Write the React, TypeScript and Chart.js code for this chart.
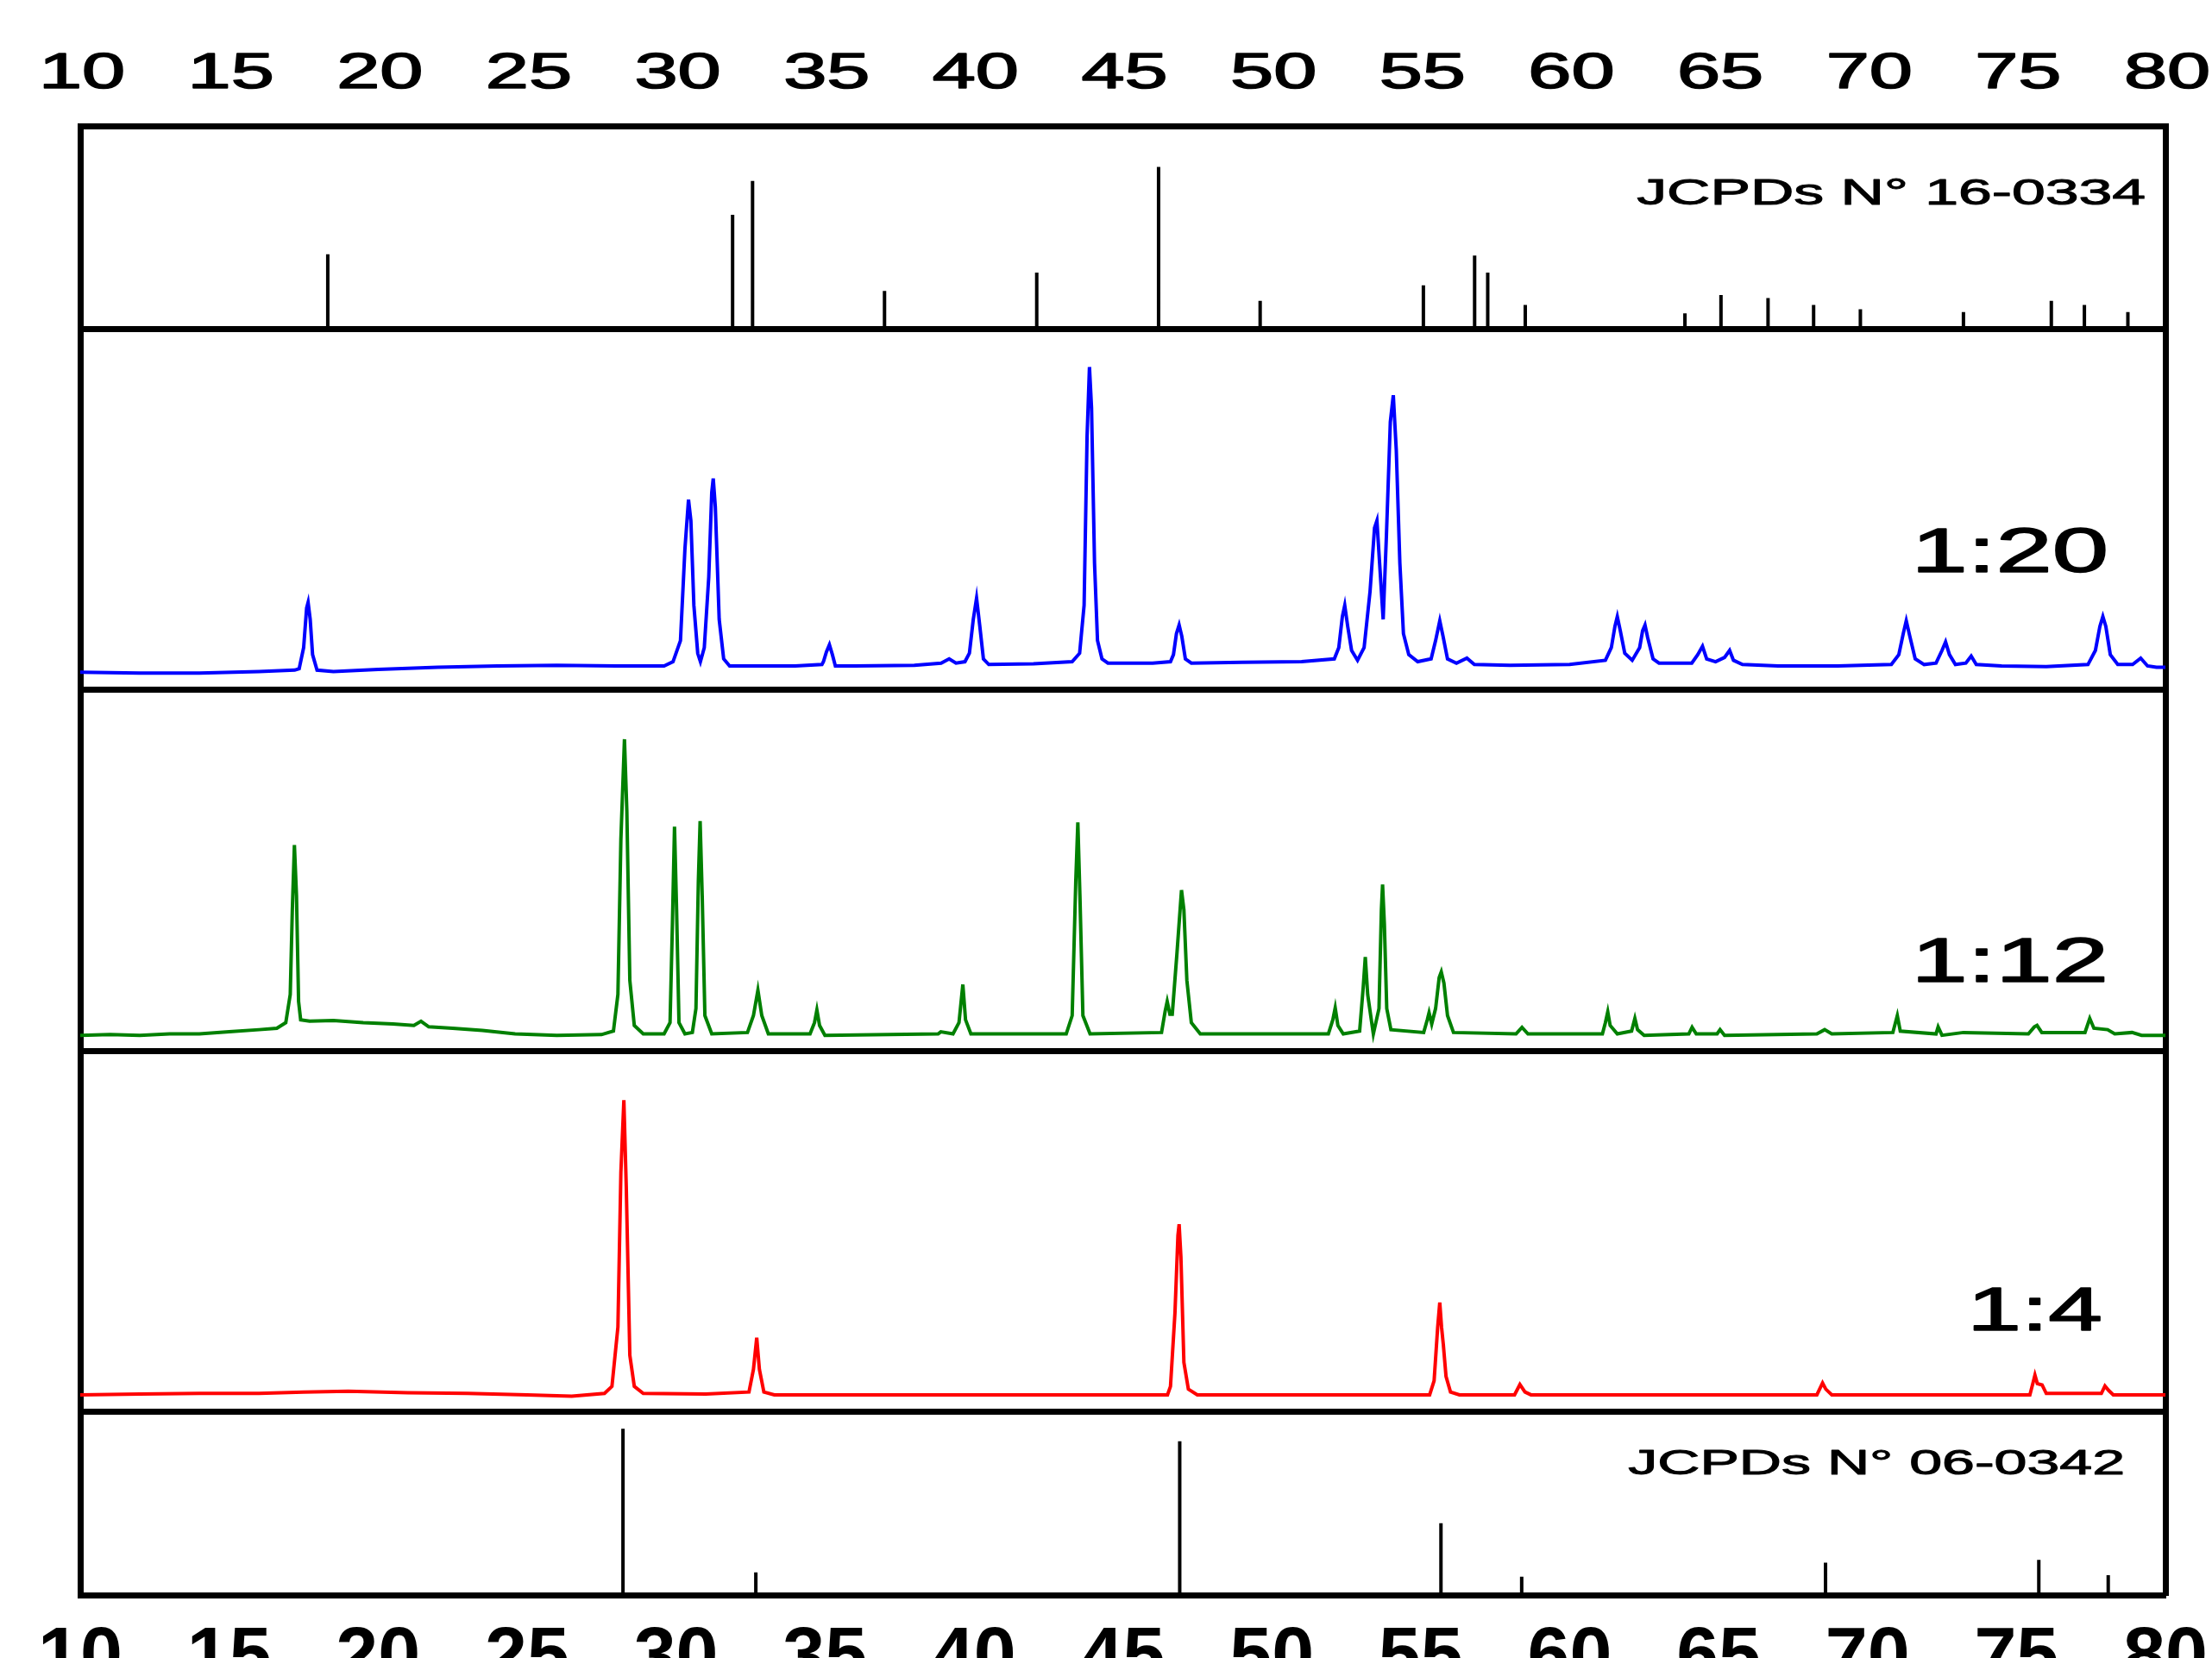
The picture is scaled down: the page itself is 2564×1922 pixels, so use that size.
import { useEffect, useRef } from "react";
import { Chart, registerables } from "chart.js";

Chart.register(...registerables);

// ---------- axis ----------
const X_MIN = 10;
const X_MAX = 80;
const X_TICK_VALUES = [10, 15, 20, 25, 30, 35, 40, 45, 50, 55, 60, 65, 70, 75, 80];
const X_TICK_LABELS = ["10", "15", "20", "25", "30", "35", "40", "45", "50", "55", "60", "65", "70", "75", "80"];

// ---------- panel baselines (stacked offsets, arbitrary units) ----------
const Y_MAX = 1042;
const DIVIDERS = [130, 386, 642, 898];
const BASE_06_0342 = 0;
const BASE_1_4 = 130;
const BASE_1_12 = 386;
const BASE_1_20 = 642;
const BASE_16_0334 = 898;

// ---------- reference patterns: [2θ, intensity] ----------
const JCPDS_16_0334: [number, number][] = [
  [18.31, 53], [31.9, 81], [32.57, 105], [37.0, 27], [42.11, 40], [46.2, 115],
  [49.61, 20], [55.09, 31], [56.81, 52], [57.25, 40], [58.51, 17], [63.87, 11],
  [65.08, 24], [66.66, 22], [68.19, 17], [69.76, 14], [73.22, 12], [76.17, 20],
  [77.28, 17], [78.74, 12],
];

const JCPDS_06_0342: [number, number][] = [
  [28.22, 118], [32.68, 16], [46.91, 109], [55.68, 51], [58.39, 13],
  [68.59, 23], [75.75, 25], [78.08, 14],
];

// ---------- measured patterns: [2θ, intensity] ----------
const RATIO_1_20: [number, number][] = [
  [10, 12.5], [12, 12], [14, 12], [16, 13], [17.2, 14],
  [17.35, 15], [17.5, 30], [17.6, 58], [17.65, 62], [17.72, 50], [17.8, 25], [17.95, 14],
  [18.5, 13], [20, 14.5], [22, 16], [24, 17], [26, 17.5], [28, 17], [29.6, 17],
  [29.9, 20], [30.15, 35], [30.3, 100], [30.42, 135], [30.5, 120], [30.6, 60], [30.73, 26],
  [30.82, 20], [30.95, 30], [31.1, 80], [31.2, 140], [31.25, 150], [31.32, 130], [31.45, 50],
  [31.6, 22], [31.8, 17], [32, 17], [34, 17], [34.9, 18],
  [34.95, 20], [35.05, 27], [35.15, 32], [35.25, 25], [35.35, 17],
  [36, 17], [38, 17.5], [38.9, 19], [39.17, 22], [39.4, 19], [39.7, 20],
  [39.85, 26], [39.98, 50], [40.09, 65], [40.2, 45], [40.32, 22], [40.5, 18],
  [42, 18.5], [43.3, 20],
  [43.55, 26], [43.7, 60], [43.8, 180], [43.88, 229], [43.95, 200], [44.05, 90], [44.15, 35],
  [44.3, 22], [44.5, 19], [46, 19], [46.6, 20],
  [46.7, 25], [46.8, 40], [46.89, 46], [46.98, 38], [47.1, 22], [47.3, 19],
  [49, 19.5], [51, 20], [52.1, 22],
  [52.25, 30], [52.37, 52], [52.45, 60], [52.55, 45], [52.68, 28], [52.88, 21],
  [53.1, 30], [53.3, 70], [53.45, 115], [53.53, 120], [53.62, 90], [53.74, 50],
  [53.85, 110], [53.98, 190], [54.08, 209], [54.18, 170], [54.3, 90], [54.42, 40],
  [54.6, 25], [54.9, 20], [55.35, 22], [55.5, 35], [55.64, 49], [55.75, 38], [55.9, 22],
  [56.2, 19], [56.55, 22.5], [56.8, 18], [58, 17.5], [60, 18], [61.2, 21],
  [61.4, 30], [61.52, 45], [61.6, 52], [61.7, 42], [61.85, 26], [62.1, 21],
  [62.35, 30], [62.45, 42], [62.53, 46], [62.62, 37], [62.8, 22], [63, 19],
  [64.1, 19], [64.3, 25], [64.46, 31], [64.6, 22], [64.9, 20], [65.2, 23], [65.37, 28],
  [65.5, 21], [65.8, 18], [67, 17], [69, 17], [70.8, 18],
  [71.05, 25], [71.2, 40], [71.3, 49], [71.42, 38], [71.6, 22], [71.9, 18],
  [72.3, 19], [72.5, 28], [72.62, 34], [72.75, 25], [72.95, 18], [73.3, 19], [73.48, 24],
  [73.65, 18], [74.5, 17], [76, 16.5], [77.4, 18],
  [77.65, 28], [77.8, 45], [77.9, 52], [78.0, 45], [78.15, 25], [78.4, 18],
  [78.9, 18], [79.17, 22.5], [79.4, 17], [79.7, 16], [80, 16],
];

const RATIO_1_12: [number, number][] = [
  [10, 11], [11, 11.5], [12, 11], [13, 12], [14, 12], [15, 13.5], [16, 15], [16.6, 16],
  [16.9, 20], [17.05, 40], [17.12, 100], [17.19, 146], [17.26, 110], [17.33, 35], [17.4, 22],
  [17.7, 21], [18.5, 21.5], [19.5, 20], [20.5, 19], [21.2, 18], [21.44, 21], [21.7, 17],
  [22.5, 16], [23.5, 14.5], [24.6, 12], [26, 11], [27.5, 11.5],
  [27.9, 14], [28.05, 40], [28.15, 150], [28.27, 221], [28.35, 170], [28.45, 50], [28.6, 18],
  [28.9, 12], [29.6, 12], [29.8, 20], [29.88, 90], [29.95, 159], [30.02, 100], [30.1, 20],
  [30.3, 12], [30.55, 13], [30.67, 30], [30.75, 120], [30.81, 163], [30.88, 110], [30.97, 25],
  [31.2, 12], [32.4, 13], [32.6, 25], [32.75, 43], [32.88, 25], [33.1, 12],
  [34.5, 12], [34.65, 20], [34.73, 29], [34.82, 18], [35, 11],
  [38.8, 12], [38.89, 13.5], [39.3, 12], [39.5, 20], [39.63, 47], [39.72, 22], [39.9, 12],
  [43.1, 12], [43.3, 25], [43.42, 120], [43.49, 162], [43.56, 110], [43.66, 25], [43.9, 12],
  [46.3, 13], [46.42, 28], [46.49, 35], [46.58, 26], [46.66, 26], [46.82, 70], [46.97, 114],
  [47.05, 100], [47.15, 50], [47.3, 20], [47.6, 12],
  [51.9, 12], [52.05, 22], [52.13, 30.5], [52.22, 18], [52.4, 12],
  [52.95, 14], [53.07, 45], [53.14, 66.5], [53.22, 40], [53.41, 12],
  [53.6, 30], [53.68, 100], [53.72, 118], [53.78, 90], [53.86, 30], [54.0, 15],
  [55.1, 13], [55.22, 22], [55.28, 27], [55.37, 19], [55.5, 30], [55.62, 52], [55.69, 56],
  [55.78, 48], [55.9, 25], [56.1, 13],
  [58.2, 12], [58.4, 16.6], [58.6, 12], [61.1, 12], [61.2, 20], [61.28, 27.7], [61.36, 18],
  [61.6, 12], [62.08, 14], [62.19, 23], [62.28, 15], [62.5, 11], [64.0, 12], [64.11, 16.7],
  [64.25, 12], [64.95, 12], [65.05, 15], [65.2, 11], [68.3, 12], [68.56, 15], [68.8, 12],
  [70.85, 13], [71.0, 25], [71.1, 14], [72.3, 12], [72.37, 17], [72.5, 11], [73.22, 13],
  [75.4, 12], [75.6, 17], [75.69, 18], [75.85, 13], [77.3, 13], [77.46, 23], [77.6, 16],
  [78.06, 15], [78.3, 12], [78.88, 13], [79.2, 11], [80, 11],
];

const RATIO_1_4: [number, number][] = [
  [10, 12], [12, 12.5], [14, 13], [16, 13], [17.5, 14], [19, 14.5], [21, 13.5], [23, 13],
  [25, 12], [26.5, 11], [27.6, 13],
  [27.85, 18], [28.05, 60], [28.15, 170], [28.25, 221], [28.33, 160], [28.45, 40], [28.6, 18],
  [28.9, 13], [31, 12.5], [32.45, 14], [32.6, 30], [32.71, 52.5], [32.8, 30], [32.95, 14],
  [33.3, 12], [46.5, 12], [46.6, 18], [46.75, 70], [46.85, 125], [46.89, 133], [46.95, 110],
  [47.05, 35], [47.2, 16], [47.5, 12],
  [55.3, 12], [55.45, 22], [55.57, 60], [55.64, 77.5], [55.7, 60], [55.76, 47.5], [55.85, 25],
  [56.0, 14], [56.3, 12], [58.15, 12], [58.33, 19.3], [58.5, 14], [58.7, 12],
  [68.3, 12], [68.49, 20.4], [68.6, 16], [68.8, 12],
  [75.45, 12], [75.55, 20], [75.62, 26], [75.7, 20], [75.86, 19], [76.0, 13],
  [77.85, 13], [77.97, 18.3], [78.1, 15], [78.25, 12], [80, 12],
];

const LABEL_16_0334 = "JCPDs N° 16-0334";
const LABEL_06_0342 = "JCPDs N° 06-0342";
const LABEL_1_20 = "1:20";
const LABEL_1_12 = "1:12";
const LABEL_1_4 = "1:4";

const FONT = '"Liberation Sans", Arial, sans-serif';

function stickPoints(list: [number, number][], base: number) {
  const pts: { x: number; y: number | null }[] = [];
  for (const [x, h] of list) {
    pts.push({ x, y: base }, { x, y: base + h }, { x, y: null });
  }
  return pts;
}

function tracePoints(list: [number, number][], base: number) {
  return list.map(([x, h]) => ({ x, y: base + h }));
}

function drawStretched(
  ctx: CanvasRenderingContext2D,
  text: string,
  x: number,
  y: number,
  size: number,
  sx: number,
  align: CanvasTextAlign,
  weight = "normal",
  stroke = 0
) {
  ctx.save();
  ctx.translate(x, y);
  ctx.scale(sx, 1);
  ctx.font = `${weight} ${size}px ${FONT}`;
  ctx.fillStyle = "#000";
  ctx.strokeStyle = "#000";
  ctx.textAlign = align;
  ctx.textBaseline = "alphabetic";
  ctx.fillText(text, 0, 0);
  if (stroke > 0) {
    ctx.lineWidth = stroke;
    ctx.lineJoin = "round";
    ctx.strokeText(text, 0, 0);
  }
  ctx.restore();
}

const textPlugin = {
  id: "xrdText",
  afterDraw(chart: any) {
    const ctx: CanvasRenderingContext2D = chart.ctx;
    const top = chart.scales.xTop;
    const bottom = chart.scales.x;
    top.ticks.forEach((t: any, i: number) => {
      const px = top.getPixelForValue(t.value);
      drawStretched(ctx, X_TICK_LABELS[i] ?? String(t.value), px + 2, 102, 57, 1.58, "center", "normal", 1.5);
    });
    bottom.ticks.forEach((t: any, i: number) => {
      const px = bottom.getPixelForValue(t.value);
      drawStretched(ctx, X_TICK_LABELS[i] ?? String(t.value), px, 1947, 88, 1.0, "center", "bold", 0);
    });
    drawStretched(ctx, LABEL_16_0334, 2487, 237, 42, 1.66, "right", "normal", 1);
    drawStretched(ctx, LABEL_1_20, 2444, 663, 72, 1.63, "right", "normal", 1.5);
    drawStretched(ctx, LABEL_1_12, 2444, 1138, 72, 1.63, "right", "normal", 1.5);
    drawStretched(ctx, LABEL_1_4, 2437, 1542, 70, 1.61, "right", "normal", 1.5);
    drawStretched(ctx, LABEL_06_0342, 2463, 1709, 41, 1.66, "right", "normal", 1);
  },
};

export default function App() {
  const ref = useRef<HTMLCanvasElement>(null);

  useEffect(() => {
    document.body.style.margin = "0";
    const canvas = ref.current;
    if (!canvas) return;

    const lineDs = (data: any[], color: string, width: number) => ({
      type: "line" as const,
      data,
      borderColor: color,
      backgroundColor: color,
      borderWidth: width,
      pointRadius: 0,
      tension: 0,
      spanGaps: false,
      xAxisID: "x",
      yAxisID: "y",
    });

    const chart = new Chart(canvas, {
      type: "line",
      data: {
        datasets: [
          lineDs(stickPoints(JCPDS_16_0334, BASE_16_0334), "#000000", 4),
          lineDs(tracePoints(RATIO_1_20, BASE_1_20), "#0000ff", 4),
          lineDs(tracePoints(RATIO_1_12, BASE_1_12), "#008000", 4),
          lineDs(tracePoints(RATIO_1_4, BASE_1_4), "#ff0000", 4),
          lineDs(stickPoints(JCPDS_06_0342, BASE_06_0342), "#000000", 4),
        ],
      },
      options: {
        responsive: false,
        devicePixelRatio: 1,
        animation: false,
        layout: { padding: { left: 93, right: 54, top: 146, bottom: 73 } },
        plugins: { legend: { display: false }, tooltip: { enabled: false } },
        elements: { point: { radius: 0 } },
        scales: {
          x: {
            type: "linear",
            position: "bottom",
            min: X_MIN,
            max: X_MAX,
            offset: false,
            afterBuildTicks: (s: any) => {
              s.ticks = X_TICK_VALUES.map((v) => ({ value: v }));
            },
            ticks: { display: false },
            grid: { display: false, drawTicks: false },
            border: { display: true, color: "#000", width: 7 },
          },
          xTop: {
            type: "linear",
            position: "top",
            min: X_MIN,
            max: X_MAX,
            offset: false,
            afterBuildTicks: (s: any) => {
              s.ticks = X_TICK_VALUES.map((v) => ({ value: v }));
            },
            ticks: { display: false },
            grid: { display: false, drawTicks: false },
            border: { display: true, color: "#000", width: 7 },
          },
          y: {
            type: "linear",
            position: "left",
            min: 0,
            max: Y_MAX,
            afterBuildTicks: (s: any) => {
              s.ticks = DIVIDERS.map((v) => ({ value: v }));
            },
            ticks: { display: false },
            grid: { display: true, color: "#000", lineWidth: 7, drawTicks: false },
            border: { display: true, color: "#000", width: 7 },
          },
          yRight: {
            type: "linear",
            position: "right",
            min: 0,
            max: Y_MAX,
            ticks: { display: false },
            grid: { display: false, drawTicks: false },
            border: { display: true, color: "#000", width: 7 },
          },
        },
      } as any,
      plugins: [textPlugin],
    });

    return () => chart.destroy();
  }, []);

  return (
    <div style={{ width: 2564, height: 1922, overflow: "hidden", background: "#fff" }}>
      <canvas ref={ref} width={2564} height={1922} style={{ display: "block", width: 2564, height: 1922 }} />
    </div>
  );
}
